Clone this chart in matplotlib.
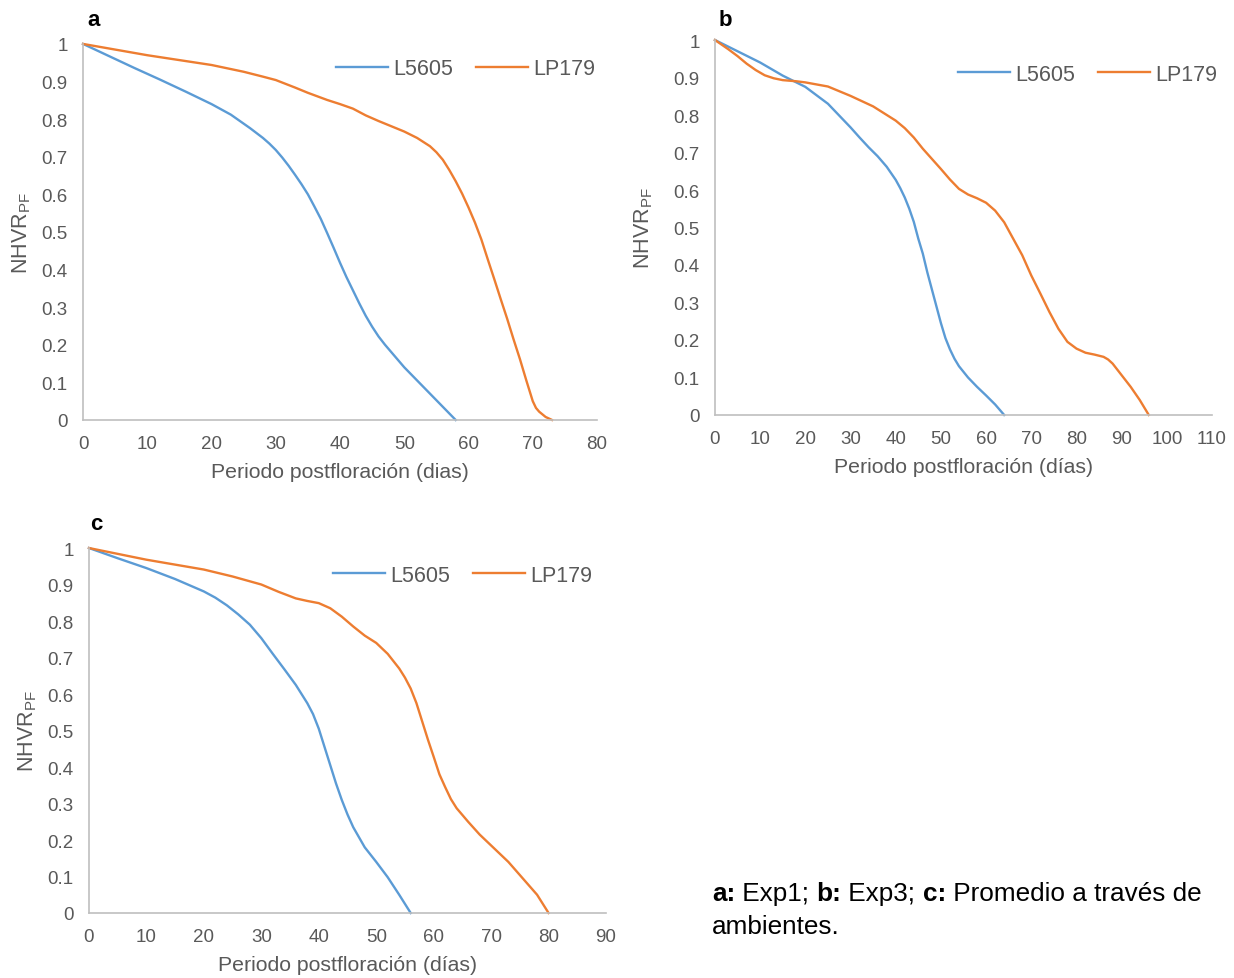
import numpy as np
import matplotlib
matplotlib.use("Agg")
import matplotlib.pyplot as plt
from matplotlib import rcParams

rcParams['font.family'] = 'Liberation Sans'
rcParams['mathtext.fontset'] = 'custom'
rcParams['mathtext.rm'] = 'Liberation Sans'
rcParams['mathtext.bf'] = 'Liberation Sans:bold'

BLUE = '#5B9BD5'
ORANGE = '#ED7D31'
GREY = '#595959'

# panel a (Exp1)
a_l5605_x = [0, 4, 8, 12, 16, 20, 23, 26, 28, 29, 30, 31, 32, 33, 34, 35, 36, 37, 38, 39, 40,
             41, 42, 43, 44, 45, 46, 47, 48, 50, 52, 54, 56, 58]
a_l5605_y = [1.0, 0.968, 0.936, 0.905, 0.873, 0.84, 0.812, 0.776, 0.75, 0.735, 0.718, 0.698,
             0.676, 0.652, 0.627, 0.6, 0.568, 0.535, 0.497, 0.458, 0.418, 0.38, 0.345, 0.31,
             0.277, 0.248, 0.222, 0.2, 0.18, 0.14, 0.105, 0.07, 0.035, 0.0]
a_lp179_x = [0, 10, 20, 25, 28, 30, 33, 35, 38, 40, 42, 44, 46, 48, 50, 52, 54, 55, 56, 57, 58,
             59, 60, 61, 62, 63, 64, 65, 66, 67, 68, 69, 70, 70.5, 71, 72, 73]
a_lp179_y = [1.0, 0.97, 0.944, 0.926, 0.913, 0.904, 0.884, 0.87, 0.851, 0.84, 0.828, 0.81,
             0.795, 0.781, 0.767, 0.75, 0.728, 0.712, 0.692, 0.665, 0.635, 0.602, 0.565, 0.525,
             0.48, 0.427, 0.375, 0.322, 0.27, 0.215, 0.162, 0.105, 0.05, 0.032, 0.022, 0.008,
             0.0]

# panel b (Exp3)
b_l5605_x = [0, 5, 10, 15, 20, 25, 30, 32, 34, 36, 38, 40, 41, 42, 43, 44, 45, 46, 47, 48, 49,
             50, 51, 52, 53, 54, 55, 56, 58, 60, 62, 64]
b_l5605_y = [1.0, 0.97, 0.94, 0.905, 0.875, 0.83, 0.767, 0.74, 0.714, 0.69, 0.662, 0.627, 0.605,
             0.58, 0.55, 0.515, 0.47, 0.43, 0.38, 0.335, 0.29, 0.245, 0.205, 0.175, 0.15, 0.13,
             0.115, 0.1, 0.075, 0.052, 0.028, 0.0]
b_lp179_x = [0, 3, 5, 7, 9, 11, 13, 15, 18, 20, 25, 30, 35, 40, 42, 44, 46, 48, 50, 52, 54, 56,
             58, 60, 62, 64, 66, 68, 70, 72, 74, 76, 78, 80, 82, 84, 86, 87, 88, 90, 92, 94, 96]
b_lp179_y = [1.0, 0.975, 0.957, 0.937, 0.92, 0.906, 0.898, 0.893, 0.89, 0.887, 0.876, 0.851,
             0.823, 0.785, 0.765, 0.74, 0.71, 0.683, 0.656, 0.628, 0.603, 0.588, 0.578, 0.566,
             0.545, 0.514, 0.47, 0.426, 0.372, 0.324, 0.275, 0.23, 0.195, 0.177, 0.166, 0.161,
             0.155, 0.148, 0.137, 0.106, 0.075, 0.04, 0.0]

# panel c (promedio)
c_l5605_x = [0, 5, 10, 15, 20, 22, 24, 26, 28, 30, 32, 34, 36, 38, 39, 40, 41, 42, 43, 44, 45,
             46, 48, 50, 52, 54, 56]
c_l5605_y = [1.0, 0.972, 0.945, 0.915, 0.881, 0.864, 0.843, 0.818, 0.79, 0.753, 0.71, 0.668,
             0.625, 0.575, 0.545, 0.505, 0.455, 0.405, 0.355, 0.31, 0.27, 0.235, 0.18, 0.14,
             0.098, 0.05, 0.0]
c_lp179_x = [0, 10, 20, 25, 30, 33, 36, 38, 40, 42, 44, 46, 48, 50, 52, 54, 55, 56, 57, 58, 59,
             60, 61, 62, 63, 64, 66, 68, 70, 73, 76, 78, 80]
c_lp179_y = [1.0, 0.968, 0.941, 0.922, 0.90, 0.88, 0.862, 0.855, 0.849, 0.835, 0.812, 0.785,
             0.76, 0.74, 0.71, 0.67, 0.645, 0.615, 0.575, 0.525, 0.475, 0.428, 0.38, 0.345,
             0.312, 0.287, 0.25, 0.215, 0.185, 0.14, 0.086, 0.05, 0.0]

xlabel_a = 'Periodo postfloración (dias)'
xlabel_bc = 'Periodo postfloración (días)'
ylabel = r'NHVR$_{\mathrm{PF}}$'
yticks = np.round(np.arange(0, 1.01, 0.1), 1)
ytick_labels = ['%g' % v for v in yticks]

caption = [('a:', 'bold'), (' Exp1; ', 'normal'), ('b:', 'bold'), (' Exp3; ', 'normal'),
           ('c:', 'bold'), (' Promedio a través de', 'normal')]
caption2 = 'ambientes.'


def panel(ax, xl, yl, xo, yo, xmax, xlab, letter, letter_xy, leg_xy, ypad):
    ax.plot(xl, yl, color=BLUE, lw=1.7, label='L5605')
    ax.plot(xo, yo, color=ORANGE, lw=1.7, label='LP179')
    ax.set_xlim(0, xmax)
    ax.set_ylim(0, 1)
    ax.set_xticks(np.arange(0, xmax + 1, 10))
    ax.set_yticks(yticks)
    ax.set_yticklabels(ytick_labels)
    for s in ['top', 'right']:
        ax.spines[s].set_visible(False)
    for s in ['left', 'bottom']:
        ax.spines[s].set_color('#BFBFBF')
        ax.spines[s].set_linewidth(1.2)
    ax.tick_params(length=0, pad=11, labelsize=13.5, colors=GREY)
    ax.set_xlabel(xlab, fontsize=15.3, color=GREY, labelpad=7)
    ax.set_ylabel(ylabel, fontsize=15.5, color=GREY, labelpad=ypad)
    for ln in ax.lines:
        ln.set_clip_on(False)
    ax.text(letter_xy[0], letter_xy[1], letter, transform=ax.transAxes, fontsize=16,
            fontweight='bold', ha='left', va='center')
    ax.legend(loc='center right', bbox_to_anchor=leg_xy, frameon=False, ncol=2,
              fontsize=15.5, handlelength=2.4, handletextpad=0.23, columnspacing=1.1,
              borderpad=0, borderaxespad=0, labelcolor=GREY)


fig = plt.figure(figsize=(12.34, 9.79), dpi=100)
ax_a = fig.add_axes([0.0673, 0.5700, 0.4165, 0.3841])
ax_b = fig.add_axes([0.5794, 0.5751, 0.4028, 0.3830])
ax_c = fig.add_axes([0.0721, 0.0664, 0.4190, 0.3728])

panel(ax_a, a_l5605_x, a_l5605_y, a_lp179_x, a_lp179_y, 80, xlabel_a, 'a',
      (0.008, 1.066), (0.996, 0.934), 6)
panel(ax_b, b_l5605_x, b_l5605_y, b_lp179_x, b_lp179_y, 110, xlabel_bc, 'b',
      (0.008, 1.056), (1.01, 0.909), 13)
panel(ax_c, c_l5605_x, c_l5605_y, c_lp179_x, c_lp179_y, 90, xlabel_bc, 'c',
      (0.002, 1.066), (0.973, 0.926), 6)

# caption: bold keys, chained piece by piece along one baseline
x0, y0 = 712 / 1234, 1 - 906 / 979
prev = fig.text(x0, y0, caption[0][0], fontsize=18.8, fontweight=caption[0][1],
                ha='left', va='bottom')
for txt, w in caption[1:]:
    prev = ax_c.annotate(txt, xy=(1, 0), xycoords=prev, ha='left', va='bottom',
                         fontsize=18.8, fontweight=w, annotation_clip=False)
fig.text(x0, y0 - 33 / 979, caption2, fontsize=18.8, ha='left', va='bottom')

fig.savefig('out.png', dpi=100)
